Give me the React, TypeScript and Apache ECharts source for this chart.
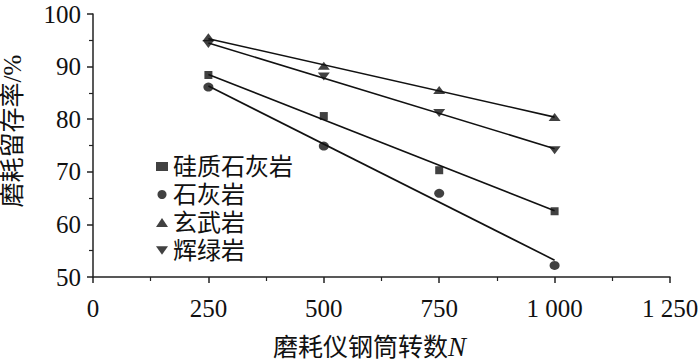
import React, { useEffect, useRef } from "react";
import * as echarts from "echarts";

const xValues = [250, 500, 750, 1000];
const siliceousLimestone = [88.4, 80.6, 70.3, 62.5];
const limestone = [86.1, 74.9, 65.9, 52.2];
const basalt = [95.6, 90.15, 85.55, 80.4];
const diabase = [94.3, 88.1, 81.2, 74.1];

const fitX = [250, 1000];
const siliceousFit = [88.5, 62.6];
const limestoneFit = [86.3, 53.2];
const basaltFit = [95.3, 80.4];
const diabaseFit = [94.5, 74.4];

const seriesNames = ["硅质石灰岩", "石灰岩", "玄武岩", "辉绿岩"];
const xTickValues = [0, 250, 500, 750, 1000, 1250];
const xTickLabels = ["0", "250", "500", "750", "1 000", "1 250"];

const DOWN_TRI = "path://M0,0L20,0L10,14Z";
const SERIF = "'Liberation Serif', 'Times New Roman', serif";
const MIXED = "'Liberation Serif', 'Noto Sans CJK SC', serif";

export default function App() {
  const ref = useRef<HTMLDivElement>(null);
  useEffect(() => {
    document.body.style.margin = "0";
    const chart = echarts.init(ref.current!, null, { renderer: "svg" });
    const pts = (ys: number[]) => xValues.map((x, i) => [x, ys[i]]);
    const fit = (ys: number[]) => fitX.map((x, i) => [x, ys[i]]);
    const lineStyle = { color: "#111", width: 1.6 };
    const mk = (name: string, ys: number[], symbol: string, size: any) => ({
      name,
      type: "scatter",
      data: pts(ys),
      symbol,
      symbolSize: size,
      itemStyle: { color: "#111" },
      z: 5,
    });
    const ln = (ys: number[]) => ({
      type: "line",
      data: fit(ys),
      symbol: "none",
      lineStyle,
      z: 3,
      silent: true,
    });
    chart.setOption({
      animation: false,
      backgroundColor: "#fff",
      grid: { left: 93, right: 30, top: 14, bottom: 84, outerBoundsMode: "none", containLabel: false },
      legend: {
        orient: "vertical",
        left: 151,
        top: 148,
        itemWidth: 12,
        itemHeight: 9,
        itemGap: 1,
        textStyle: { fontFamily: MIXED, fontSize: 24, color: "#111", lineHeight: 27 },
        data: [
          { name: seriesNames[0], icon: "rect" },
          { name: seriesNames[1], icon: "circle" },
          { name: seriesNames[2], icon: "triangle" },
          { name: seriesNames[3], icon: DOWN_TRI },
        ],
      },
      xAxis: {
        type: "value",
        min: 0,
        max: 1250,
        interval: 250,
        name: "磨耗仪钢筒转数{n|N}",
        nameLocation: "middle",
        nameGap: 57,
        nameTextStyle: {
          fontFamily: MIXED,
          fontSize: 25,
          color: "#111",
          lineHeight: 26,
          padding: [0, 24, 0, 0],
          rich: { n: { fontFamily: SERIF, fontStyle: "italic", fontSize: 27, color: "#111", lineHeight: 26 } },
        },
        axisLine: { show: true, lineStyle: { color: "#222", width: 1.5 } },
        axisTick: { show: true, inside: false, length: 6, lineStyle: { color: "#222", width: 1.5 } },
        minorTick: { show: true, splitNumber: 2, length: 4, lineStyle: { color: "#222", width: 1.2 } },
        splitLine: { show: false },
        axisLabel: {
          margin: 19,
          fontFamily: SERIF,
          fontSize: 25,
          color: "#111",
          formatter: (v: number) => xTickLabels[xTickValues.indexOf(v)] ?? String(v),
        },
      },
      yAxis: {
        type: "value",
        min: 50,
        max: 100,
        interval: 10,
        name: "磨耗留存率/%",
        nameLocation: "middle",
        nameGap: 68,
        nameTextStyle: {
          fontFamily: MIXED,
          fontSize: 25,
          color: "#111",
          lineHeight: 26,
          padding: [0, 0, 0, 29],
        },
        axisLine: { show: true, lineStyle: { color: "#222", width: 1.5 } },
        axisTick: { show: true, inside: false, length: 6, lineStyle: { color: "#222", width: 1.5 } },
        minorTick: { show: true, splitNumber: 2, length: 4, lineStyle: { color: "#222", width: 1.2 } },
        splitLine: { show: false },
        axisLabel: { margin: 12, fontFamily: SERIF, fontSize: 25, color: "#111" },
      },
      series: [
        ln(siliceousFit),
        ln(limestoneFit),
        ln(basaltFit),
        ln(diabaseFit),
        mk(seriesNames[0], siliceousLimestone, "rect", [8, 8]),
        mk(seriesNames[1], limestone, "circle", [10, 9]),
        mk(seriesNames[2], basalt, "triangle", [12, 8]),
        mk(seriesNames[3], diabase, DOWN_TRI, [12, 8]),
      ],
    });
    return () => chart.dispose();
  }, []);
  return (
    <div
      ref={ref}
      style={{ width: 700, height: 361, position: "absolute", left: 0, top: 0 }}
    />
  );
}
